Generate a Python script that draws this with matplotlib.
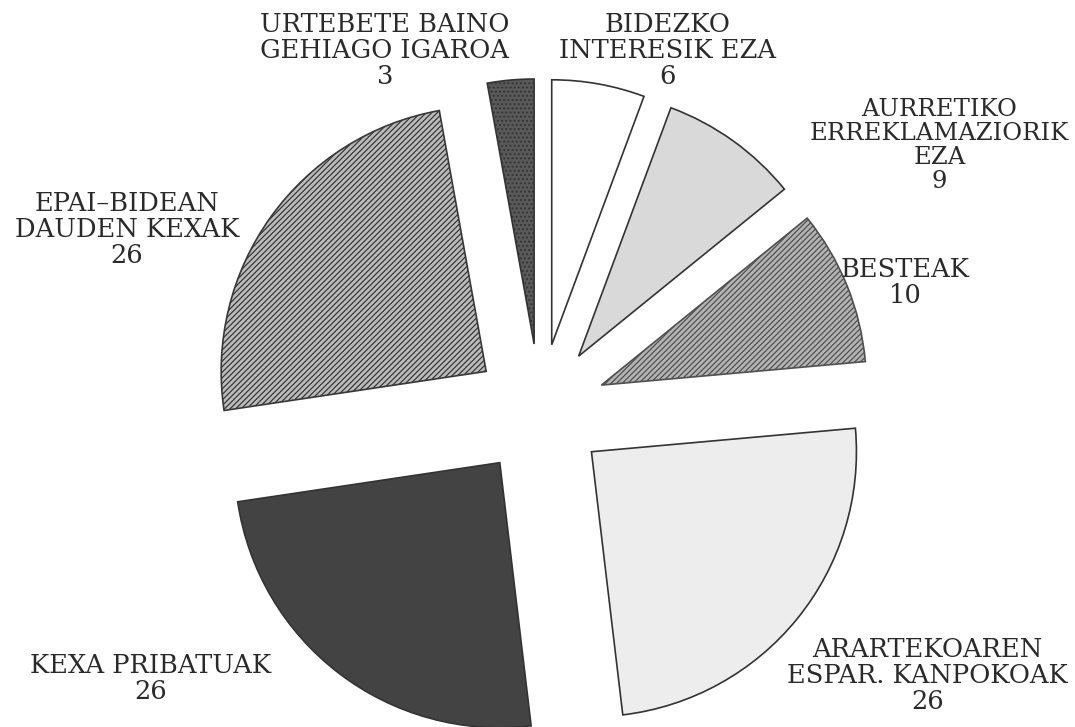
#!/usr/bin/env python3
import matplotlib
matplotlib.use('Agg')
import matplotlib.pyplot as plt

# slice data, clockwise from the top
labels = ['BIDEZKO\nINTERESIK EZA', 'AURRETIKO\nERREKLAMAZIORIK\nEZA', 'BESTEAK',
          'ARARTEKOAREN\nESPAR. KANPOKOAK', 'KEXA PRIBATUAK',
          'EPAI\u2013BIDEAN\nDAUDEN KEXAK', 'URTEBETE BAINO\nGEHIAGO IGAROA']
values = [6, 9, 10, 26, 26, 26, 3]

# look of each slice
colors = ['#ffffff', '#d9d9d9', '#b4b4b4', '#ededed', '#434343', '#bcbcbc', '#595959']
hatches = [None, None, '//////', None, None, '//////', '....']
hatch_cols = [None, None, '#505050', None, None, '#383838', '#333333']

# label positions (axes fraction) and sizes
label_pos = [(0.621, 0.931), (0.874, 0.800), (0.842, 0.611), (0.863, 0.0715),
             (0.140, 0.067), (0.118, 0.685), (0.358, 0.931)]
label_size = [18.5, 17.5, 18.5, 18.5, 18.5, 18.5, 18.5]

plt.rcParams['hatch.linewidth'] = 0.9

fig = plt.figure(figsize=(10.75, 7.27), dpi=100)
ax = fig.add_axes([0, 0, 1, 1])

wedges, _ = ax.pie(values, startangle=90, counterclock=False,
                   explode=[0.25] * len(values), radius=1.0,
                   colors=colors,
                   wedgeprops=dict(edgecolor='#333333', linewidth=1.2))

for w, h, hc in zip(wedges, hatches, hatch_cols):
    if h:
        w.set_hatch(h)
        w.set_edgecolor(hc)

for lab, v, (x, y), fs in zip(labels, values, label_pos, label_size):
    ax.text(x, y, lab + '\n' + str(v), transform=ax.transAxes,
            ha='center', va='center', fontsize=fs, family='DejaVu Serif',
            color='#2a2a2a', linespacing=1.05)

# pie centre sits a bit right of and below the figure centre
ax.set_xlim(-540 / 265, (1075 - 540) / 265)
ax.set_ylim(-(727 - 410) / 265, 410 / 265)
ax.set_aspect('equal')
ax.axis('off')

fig.savefig('out.png', dpi=100)
